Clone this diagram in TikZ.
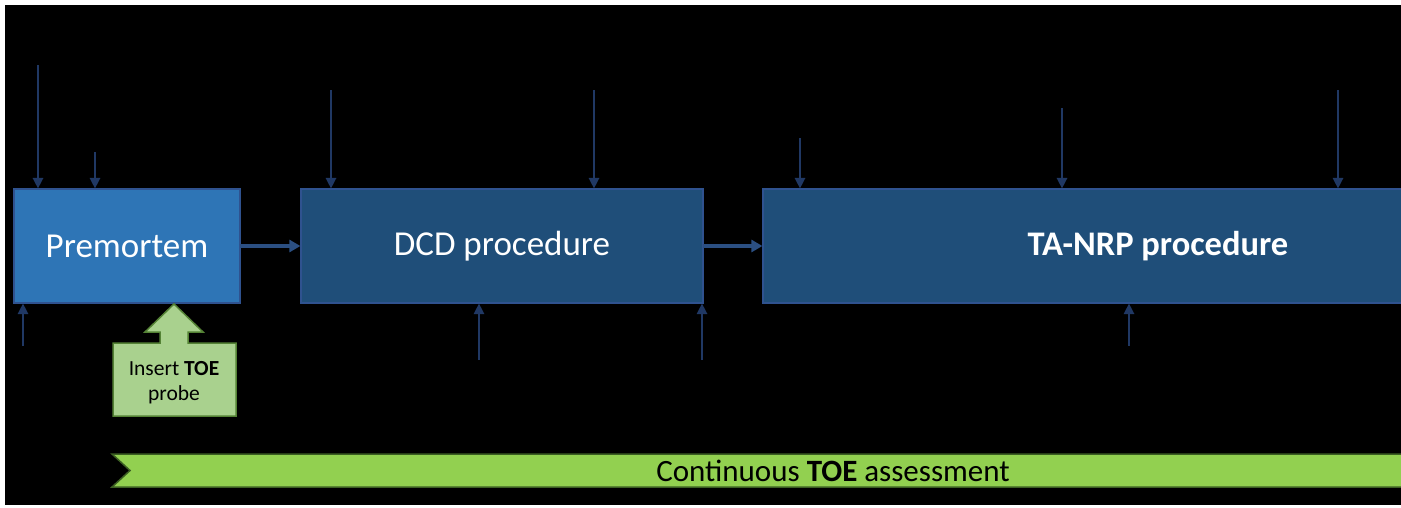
\documentclass[tikz,border=0pt]{standalone}
\usepackage{fontspec}
\setmainfont{Carlito}
\usetikzlibrary{arrows.meta}

\definecolor{premfill}{HTML}{2E75B6}
\definecolor{stagefill}{HTML}{1F4E79}
\definecolor{stageline}{HTML}{2F528F}
\definecolor{feed}{HTML}{203864}
\definecolor{flow}{HTML}{2B4F82}
\definecolor{probefill}{HTML}{A9D18E}
\definecolor{probeline}{HTML}{548235}
\definecolor{bandfill}{HTML}{92D050}
\definecolor{bandline}{HTML}{3B5E22}

\begin{document}
\begin{tikzpicture}[x=1pt,y=-1pt,
  stage/.style={draw=stageline, line width=1.2pt, rectangle, inner sep=0pt,
    minimum height=114pt, text=white},
  feedarrow/.style={draw=feed, line width=1.4pt,
    -{Triangle[width=10.5pt,length=10.5pt]}},
  flowarrow/.style={draw=flow, line width=3.5pt,
    -{Triangle[width=12pt,length=11pt]}, shorten <=-1pt},
]
\useasboundingbox (0,0) rectangle (1401,507);
\fill[white] (0,0) rectangle (1401,507);
\fill[black] (5,5) rectangle (1401,505);
\clip (5,5) rectangle (1401,505);

% process stages
\node[stage, fill=premfill, minimum width=226pt, font=\fontsize{35}{40}\selectfont]
  (pre) at (127,246) {Premortem};
\node[stage, fill=stagefill, minimum width=402pt, font=\fontsize{35}{40}\selectfont]
  (dcd) at (502,246) {DCD procedure};
\node[stage, fill=stagefill, minimum width=790pt, font=\fontsize{34.5}{40}\selectfont]
  (nrp) at (1158,246) {\textbf{TA-NRP procedure}};

% flow between stages
\draw[flowarrow] (pre.east) -- (dcd.west);
\draw[flowarrow] (dcd.east) -- (nrp.west);

% inputs from above
\coordinate (i1) at (38,65);
\coordinate (i2) at (95,152);
\coordinate (i3) at (331,90);
\coordinate (i4) at (594,90);
\coordinate (i5) at (800,138);
\coordinate (i6) at (1062,108);
\coordinate (i7) at (1338,90);
\draw[feedarrow] (i1) -- (i1 |- pre.north);
\draw[feedarrow] (i2) -- (i2 |- pre.north);
\draw[feedarrow] (i3) -- (i3 |- dcd.north);
\draw[feedarrow] (i4) -- (i4 |- dcd.north);
\draw[feedarrow] (i5) -- (i5 |- nrp.north);
\draw[feedarrow] (i6) -- (i6 |- nrp.north);
\draw[feedarrow] (i7) -- (i7 |- nrp.north);

% inputs from below
\coordinate (b1) at (23,346);
\coordinate (b2) at (479,360);
\coordinate (b3) at (702,360);
\coordinate (b4) at (1129,346);
\draw[feedarrow] (b1) -- (b1 |- pre.south);
\draw[feedarrow] (b2) -- (b2 |- dcd.south);
\draw[feedarrow] (b3) -- (b3 |- dcd.south);
\draw[feedarrow] (b4) -- (b4 |- nrp.south);

% probe insertion callout
\draw[fill=probefill, draw=probeline, line width=1.5pt, line join=miter]
  (113,343) -- (160,343) -- (160,332) -- (145,332) -- (174,304) -- (203,332)
  -- (188,332) -- (188,343) -- (236,343) -- (236,416) -- (113,416) -- cycle;
\node[align=center, font=\fontsize{21.5}{25}\selectfont, text=black] (probe)
  at (174,383) {Insert \textbf{TOE}\\probe};

% continuous assessment band
\draw[fill=bandfill, draw=bandline, line width=1.5pt, line join=miter]
  (112,454) -- (1560,454) -- (1560,487) -- (112,487) -- (130,470.5) -- cycle;
\node[font=\fontsize{31}{34}\selectfont, text=black, inner sep=0pt] (toe)
  at (833,470.5) {Continuous \textbf{TOE} assessment};
\end{tikzpicture}
\end{document}
